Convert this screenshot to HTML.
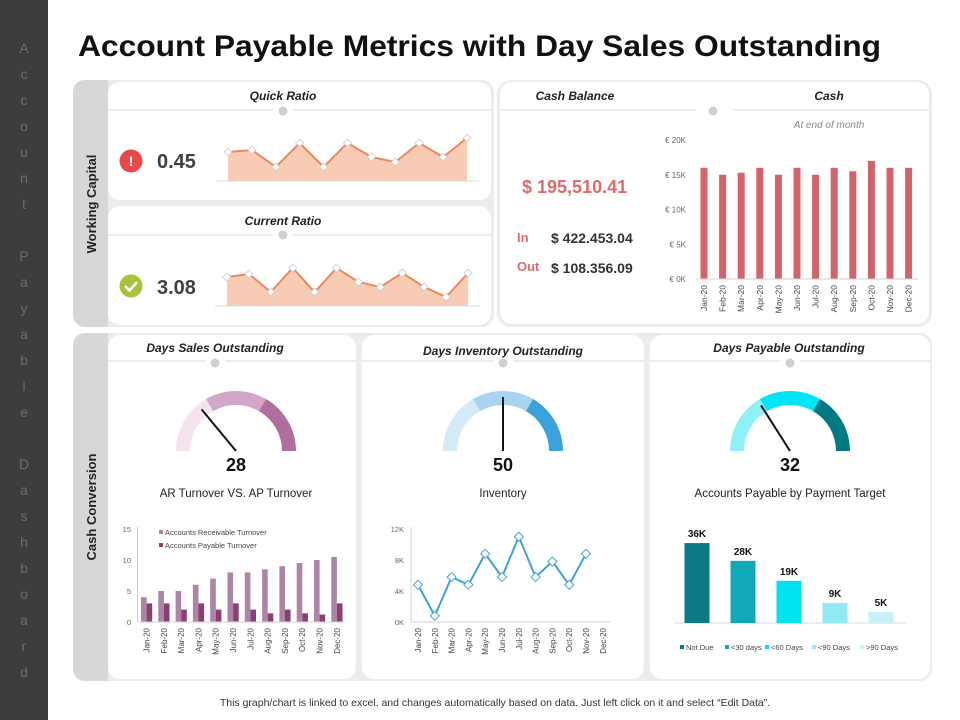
<!DOCTYPE html>
<html><head><meta charset="utf-8"><style>
html,body{margin:0;padding:0;background:#fff;}
svg{display:block;font-family:"Liberation Sans",sans-serif;}
.hd{font-family:"Liberation Sans Narrow","Liberation Sans",sans-serif;font-weight:bold;font-style:italic;font-size:12px;fill:#222;}
.tk{font-size:8px;fill:#666;}
</style></head><body>
<svg id="root" width="960" height="720" viewBox="0 0 960 720" xmlns="http://www.w3.org/2000/svg">
<rect x="0" y="0" width="960" height="720" fill="#fff"/>
<rect x="0" y="0" width="48" height="720" fill="#3d3d3d"/>
<g id="sideText"></g>
<text x="78" y="56" font-size="30" font-weight="bold" fill="#111" textLength="803" lengthAdjust="spacingAndGlyphs" style="font-family:'Liberation Sans Narrow','Liberation Sans',sans-serif">Account Payable Metrics with Day Sales Outstanding</text>

<!-- group backgrounds -->
<rect x="73" y="80" width="421" height="247" rx="12" fill="#ececec"/>
<path d="M85 80 H108 V327 H85 A12 12 0 0 1 73 315 V92 A12 12 0 0 1 85 80Z" fill="#d7d7d7"/>
<text transform="translate(96,204) rotate(-90)" text-anchor="middle" font-size="13" font-weight="bold" fill="#222">Working Capital</text>
<rect x="108" y="82" width="383" height="118" rx="12" fill="#fff"/>
<rect x="108" y="206" width="383" height="119" rx="12" fill="#fff"/>
<rect x="497" y="80" width="435" height="247" rx="14" fill="#ececec"/>
<rect x="500" y="82" width="429" height="242" rx="12" fill="#fff"/>
<rect x="73" y="333" width="859" height="348" rx="12" fill="#ececec"/>
<path d="M85 333 H108 V681 H85 A12 12 0 0 1 73 669 V345 A12 12 0 0 1 85 333Z" fill="#d7d7d7"/>
<text transform="translate(96,507) rotate(-90)" text-anchor="middle" font-size="13" font-weight="bold" fill="#222">Cash Conversion</text>
<rect x="108" y="335" width="248" height="344" rx="12" fill="#fff"/>
<rect x="362" y="335" width="282" height="344" rx="12" fill="#fff"/>
<rect x="650" y="335" width="280" height="344" rx="12" fill="#fff"/>

<!-- headers -->
<g stroke="#d8d8d8" stroke-width="1">
<line x1="108" y1="110" x2="273" y2="110"/><line x1="293" y1="110" x2="491" y2="110"/>
<line x1="108" y1="235" x2="273" y2="235"/><line x1="293" y1="235" x2="491" y2="235"/>
<line x1="500" y1="110" x2="696" y2="110"/><line x1="732" y1="110" x2="929" y2="110"/>
<line x1="108" y1="361" x2="205" y2="361"/><line x1="225" y1="361" x2="356" y2="361"/>
<line x1="362" y1="361" x2="493" y2="361"/><line x1="513" y1="361" x2="644" y2="361"/>
<line x1="650" y1="361" x2="780" y2="361"/><line x1="800" y1="361" x2="930" y2="361"/>
</g>
<g fill="#d0d0d0">
<circle cx="283" cy="111" r="4.5"/>
<circle cx="283" cy="235" r="4.5"/>
<circle cx="713" cy="111" r="4.5"/>
<circle cx="215" cy="363" r="4.5"/>
<circle cx="503" cy="363" r="4.5"/>
<circle cx="790" cy="363" r="4.5"/>
</g>
<text class="hd" x="283" y="100" text-anchor="middle">Quick Ratio</text>
<text class="hd" x="283" y="225" text-anchor="middle">Current Ratio</text>
<text class="hd" x="575" y="100" text-anchor="middle">Cash Balance</text>
<text class="hd" x="829" y="100" text-anchor="middle">Cash</text>
<text x="829" y="128" text-anchor="middle" font-size="10" font-style="italic" fill="#888">At end of month</text>
<text class="hd" x="215" y="352" text-anchor="middle">Days Sales Outstanding</text>
<text class="hd" x="503" y="355" text-anchor="middle">Days Inventory Outstanding</text>
<text class="hd" x="789" y="352" text-anchor="middle">Days Payable Outstanding</text>

<!-- KPIs -->
<g><circle cx="131" cy="161" r="11.5" fill="#e84848"/><text x="131" y="166" text-anchor="middle" font-size="14" font-weight="bold" fill="#fff">!</text></g>
<text x="157" y="168" font-size="20" font-weight="bold" fill="#404040">0.45</text>
<g><circle cx="131" cy="286" r="11.5" fill="#a8c23a"/><path d="M125 286 L129.5 290.5 L137 282" stroke="#fff" stroke-width="2.6" fill="none"/></g>
<text x="157" y="294" font-size="20" font-weight="bold" fill="#404040">3.08</text>
<text x="522" y="193" font-size="18" font-weight="bold" fill="#dd6b6b">$ 195,510.41</text>
<text x="517" y="242" font-size="13" font-weight="bold" fill="#dd6b6b">In</text>
<text x="551" y="243" font-size="14" font-weight="bold" fill="#333">$ 422.453.04</text>
<text x="517" y="271" font-size="13" font-weight="bold" fill="#dd6b6b">Out</text>
<text x="551" y="273" font-size="14" font-weight="bold" fill="#333">$ 108.356.09</text>

<text x="236" y="471" text-anchor="middle" font-size="18" font-weight="bold" fill="#111">28</text>
<text x="503" y="471" text-anchor="middle" font-size="18" font-weight="bold" fill="#111">50</text>
<text x="790" y="471" text-anchor="middle" font-size="18" font-weight="bold" fill="#111">32</text>
<text x="236" y="497" text-anchor="middle" font-size="11.5" fill="#222">AR Turnover  VS. AP Turnover</text>
<text x="503" y="497" text-anchor="middle" font-size="11.5" fill="#222">Inventory</text>
<text x="790" y="497" text-anchor="middle" font-size="11.5" fill="#222">Accounts Payable by Payment Target</text>

<text x="495" y="706" text-anchor="middle" font-size="10.5" fill="#333">This graph/chart is linked to excel, and changes automatically based on data. Just left click on it and select “Edit Data”.</text>

<g id="charts"></g>
</svg>
<script>
const NS="http://www.w3.org/2000/svg";
const months=["Jan-20","Feb-20","Mar-20","Apr-20","May-20","Jun-20","Jul-20","Aug-20","Sep-20","Oct-20","Nov-20","Dec-20"];
const quickRatio=[29,31,14,38,14,38,24,19,38,24,43];
const currentRatio=[29,32,14,38,14,38,24,19,33,19,9,33];
const cashValues=[16,15,15.3,16,15,16,15,16,15.5,17,16,16];
const cashTicks=[0,5,10,15,20];
const arTurnover=[4,5,5,6,7,8,8,8.5,9,9.5,10,10.5];
const apTurnover=[3,3,2,3,2,3,2,1.4,2,1.4,1.2,3];
const arTicks=[0,5,10,15];
const inventory=[4.8,0.8,5.8,4.8,8.8,5.8,11,5.8,7.8,4.8,8.8];
const invTicks=[0,4,8,12];
const dpoCats=["Not Due","<30 days","<60 Days","<90 Days",">90 Days"];
const dpoValues=[36,28,19,9,5];
const gaugeValues=[28,50,32];
const gaugeMax=100;

const root=document.getElementById('charts');
function mk(tag,attrs,parent){const e=document.createElementNS(NS,tag);for(const k in attrs)e.setAttribute(k,attrs[k]);(parent||root).appendChild(e);return e;}

// side letters
const side=document.getElementById('sideText');
const sideStr="Account Payable Dashboard";
for(let i=0;i<sideStr.length;i++){const ch=sideStr[i];if(ch===' ')continue;
 const t=mk('text',{x:24,y:53+i*26,'text-anchor':'middle','font-size':14,fill:'#6e6e6e'},side);
 
 
 t.textContent=ch;}

// sparklines
function spark(vals,x0,x1,base,nm){
 const n=vals.length, sx=i=>x0+i*(x1-x0)/(n-1), sy=v=>base-v;
 const g=mk('g',{});
 
 
 let d='M'+sx(0)+' '+base;vals.forEach((v,i)=>d+=' L'+sx(i)+' '+sy(v));d+=' L'+sx(n-1)+' '+base+'Z';
 const a=mk('path',{d:d,fill:'#f8ccb4'},g);
 
 
 const l=mk('polyline',{points:vals.map((v,i)=>sx(i)+','+sy(v)).join(' '),fill:'none',stroke:'#e88a5e','stroke-width':2},g);
 
 
 const b=mk('line',{x1:x0-12,x2:x1+12,y1:base,y2:base,stroke:'#d8d8d8'},g);
 
 
 vals.forEach((v,i)=>{const x=sx(i),y=sy(v);
  const m=mk('path',{d:`M${x} ${y-4} L${x+4} ${y} L${x} ${y+4} L${x-4} ${y}Z`,fill:'#fff',stroke:'#c9c9c9','stroke-width':0.8},g);
  
  });
}
spark(quickRatio,228,467,181,'quick-ratio-sparkline');
spark(currentRatio,227,468,306,'current-ratio-sparkline');

// cash bar chart
(function(){
 const y=v=>279-v/20*139, x=i=>704+i*18.6;
 cashTicks.forEach(t=>{const tx=mk('text',{x:686,y:y(t)+3,'text-anchor':'end',class:'tk'});
  
  
  tx.textContent='€ '+t+'K';});
 cashValues.forEach((v,i)=>{const r=mk('rect',{x:x(i)-3.5,y:y(v),width:7,height:279-y(v),fill:'#d4626a'});
  
  });
 const ax=mk('line',{x1:696,x2:918,y1:279,y2:279,stroke:'#d0d0d0'});
 
 
 months.forEach((m,i)=>{const t=mk('text',{transform:`translate(${x(i)+3},285) rotate(-90)`,'text-anchor':'end','font-size':8.5,fill:'#444'});
  
  
  t.textContent=m;});
})();

// gauges
const gauges=[{cx:236,nm:'dso',c:['#f3e4ef','#d3a7c9','#b06e9f']},{cx:503,nm:'dio',c:['#d5eaf7','#a7d5f0','#3aa3dc']},{cx:790,nm:'dpo',c:['#8ff1f8','#00e6f6','#007a82']}];
function arc(cx,cy,r0,r1,a0,a1){const p=(r,a)=>[cx+r*Math.cos(a*Math.PI/180),cy-r*Math.sin(a*Math.PI/180)];
 const A=p(r1,a0),B=p(r1,a1),C=p(r0,a1),D=p(r0,a0);
 return `M${A[0]} ${A[1]} A${r1} ${r1} 0 0 1 ${B[0]} ${B[1]} L${C[0]} ${C[1]} A${r0} ${r0} 0 0 0 ${D[0]} ${D[1]}Z`;}
gauges.forEach((g,k)=>{const cy=451;
 [[180,120],[120,60],[60,0]].forEach((s,j)=>{const p=mk('path',{d:arc(g.cx,cy,46,60,s[0],s[1]),fill:g.c[j]});
  
  });
 const ang=(180-gaugeValues[k]/gaugeMax*180)*Math.PI/180;
 const ex=g.cx+54*Math.cos(ang), ey=cy-54*Math.sin(ang);
 const n=mk('line',{x1:g.cx,y1:cy,x2:ex,y2:ey,stroke:'#111','stroke-width':2});
 
 
});

// AR vs AP chart
(function(){
 const y=v=>622-v/15*93, x=i=>141+i*17.3;
 arTicks.forEach(t=>{const tx=mk('text',{x:131,y:y(t)+3,'text-anchor':'end','font-size':7.5,fill:'#666'});
  
  
  tx.textContent=t;});
 const ya=mk('line',{x1:137.5,x2:137.5,y1:527,y2:622,stroke:'#d0d0d0'});
 
 
 arTurnover.forEach((v,i)=>{const r=mk('rect',{x:x(i),y:y(v),width:5.6,height:622-y(v),fill:'#ae84a5'});
  
  });
 apTurnover.forEach((v,i)=>{const r=mk('rect',{x:x(i)+5.6,y:y(v),width:5.6,height:622-y(v),fill:'#8d3e72'});
  
  });
 const xa=mk('line',{x1:137.5,x2:344,y1:622,y2:622,stroke:'#d0d0d0'});
 
 
 months.forEach((m,i)=>{const t=mk('text',{transform:`translate(${x(i)+8.5},628) rotate(-90)`,'text-anchor':'end','font-size':8,fill:'#444'});
  
  
  t.textContent=m;});
 [['Accounts Receivable Turnover','#ae84a5',535],['Accounts Payable Turnover','#8d3e72',548]].forEach(L=>{
  const s=mk('rect',{x:159,y:L[2]-5,width:4,height:4,fill:L[1]});
  
  
  const t=mk('text',{x:165,y:L[2],'font-size':7.5,fill:'#444'});
  
  
  t.textContent=L[0];});
})();

// Inventory line chart
(function(){
 const y=v=>622-v/12*93, x=i=>418+i*16.8;
 invTicks.forEach(t=>{const tx=mk('text',{x:404,y:y(t)+3,'text-anchor':'end','font-size':7.5,fill:'#666'});
  
  
  tx.textContent=t+'K';});
 const ya=mk('line',{x1:411,x2:411,y1:527,y2:622,stroke:'#d0d0d0'});
 
 
 const xa=mk('line',{x1:411,x2:610,y1:622,y2:622,stroke:'#d0d0d0'});
 
 
 const l=mk('polyline',{points:inventory.map((v,i)=>x(i)+','+y(v)).join(' '),fill:'none',stroke:'#3ba3d4','stroke-width':2});
 
 
 inventory.forEach((v,i)=>{const px=x(i),py=y(v);
  const m=mk('path',{d:`M${px} ${py-4.5} L${px+4.5} ${py} L${px} ${py+4.5} L${px-4.5} ${py}Z`,fill:'#fff',stroke:'#3ba3d4','stroke-width':1});
  
  });
 months.forEach((m,i)=>{const t=mk('text',{transform:`translate(${x(i)+3},628) rotate(-90)`,'text-anchor':'end','font-size':8,fill:'#444'});
  
  
  t.textContent=m;});
})();

// DPO bar chart
(function(){
 const cols=['#0b7a84','#11a9b8','#00e2f2','#90e9f5','#c9f2f8'];
 const y=v=>623-v*2.22, x=i=>697+i*46;
 const b=mk('line',{x1:675,x2:906,y1:623,y2:623,stroke:'#d8d8d8'});
 
 
 dpoValues.forEach((v,i)=>{const r=mk('rect',{x:x(i)-12.5,y:y(v),width:25,height:623-y(v),fill:cols[i]});
  
  
  const t=mk('text',{x:x(i),y:y(v)-6,'text-anchor':'middle','font-size':10,'font-weight':'bold',fill:'#111'});
  
  
  t.textContent=v+'K';});
 const lx=[680,725,765,812,860];
 dpoCats.forEach((c,i)=>{const s=mk('rect',{x:lx[i],y:645,width:4,height:4,fill:cols[i]});
  
  
  const t=mk('text',{x:lx[i]+6,y:650,'font-size':7.5,fill:'#444'});
  
  
  t.textContent=c;});
})();
</script>
</body></html>
